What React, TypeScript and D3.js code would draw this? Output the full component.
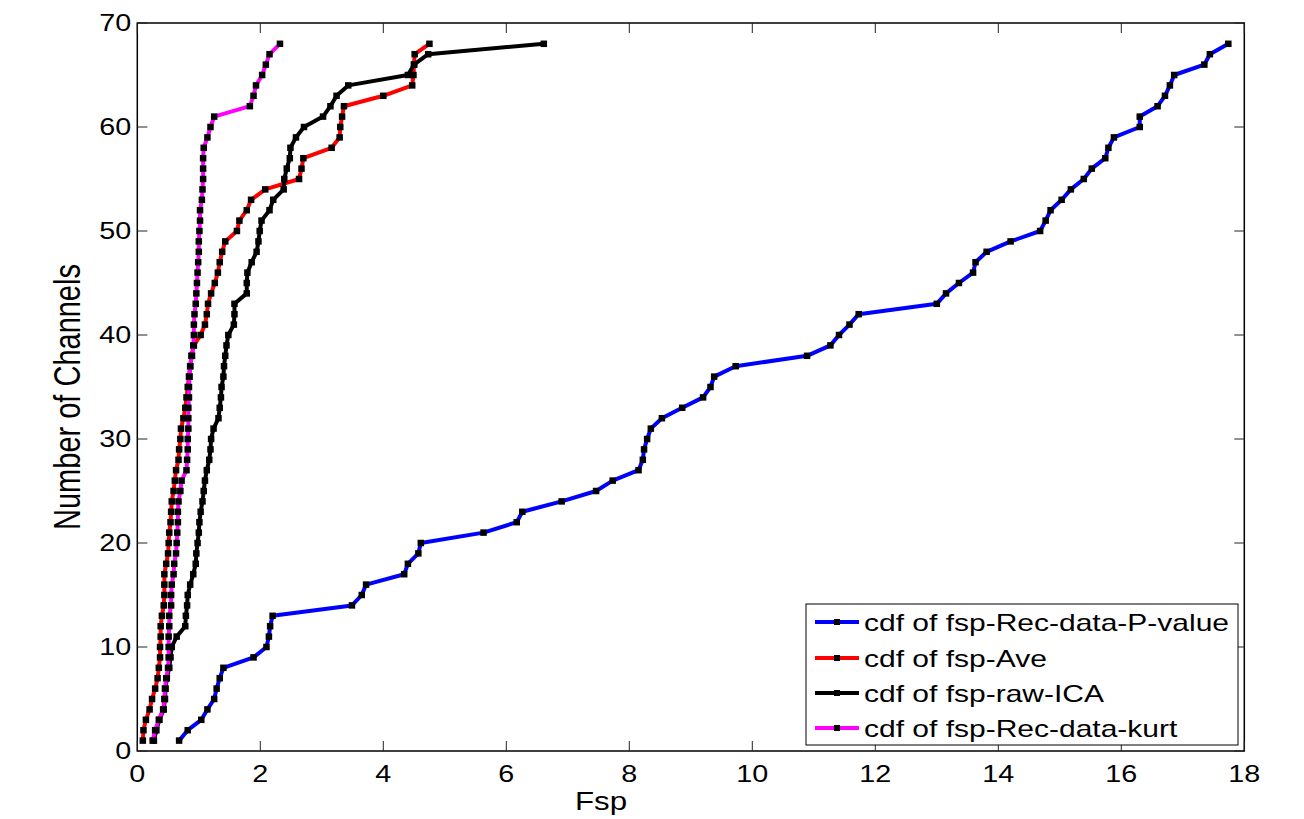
import React from 'react';
import * as d3 from 'd3';

// Channel counts (cumulative number of channels, 1..68)
const channels: number[] = d3.range(1, 69);

const fspRecDataPValue: number[] = [
  0.68, 0.82, 1.04, 1.14, 1.25, 1.29, 1.34, 1.40, 1.89, 2.10,
  2.14, 2.16, 2.20, 3.49, 3.65, 3.72, 4.34, 4.40, 4.57, 4.61,
  5.63, 6.17, 6.26, 6.90, 7.46, 7.73, 8.15, 8.22, 8.24, 8.29,
  8.35, 8.53, 8.86, 9.20, 9.32, 9.38, 9.73, 10.89, 11.27, 11.41,
  11.58, 11.73, 13.00, 13.15, 13.36, 13.59, 13.63, 13.81, 14.20, 14.68,
  14.77, 14.85, 15.03, 15.18, 15.39, 15.52, 15.74, 15.79, 15.88, 16.30,
  16.30, 16.59, 16.71, 16.79, 16.86, 17.35, 17.44, 17.74,
];

const fspAve: number[] = [
  0.09, 0.10, 0.14, 0.20, 0.24, 0.29, 0.33, 0.35, 0.37, 0.37,
  0.38, 0.38, 0.40, 0.43, 0.44, 0.44, 0.44, 0.47, 0.50, 0.51,
  0.52, 0.54, 0.55, 0.56, 0.59, 0.61, 0.63, 0.67, 0.68, 0.70,
  0.71, 0.75, 0.78, 0.80, 0.82, 0.84, 0.86, 0.88, 0.92, 1.03,
  1.10, 1.13, 1.15, 1.20, 1.26, 1.31, 1.34, 1.38, 1.43, 1.62,
  1.66, 1.78, 1.85, 2.08, 2.63, 2.67, 2.70, 3.16, 3.29, 3.30,
  3.33, 3.36, 4.00, 4.47, 4.49, 4.50, 4.51, 4.75,
];

const fspRawICA: number[] = [
  0.27, 0.31, 0.36, 0.43, 0.45, 0.46, 0.48, 0.52, 0.54, 0.56,
  0.64, 0.78, 0.79, 0.81, 0.82, 0.86, 0.91, 0.95, 0.96, 0.98,
  1.00, 1.01, 1.03, 1.06, 1.08, 1.10, 1.13, 1.17, 1.19, 1.20,
  1.24, 1.32, 1.34, 1.36, 1.37, 1.40, 1.41, 1.43, 1.45, 1.48,
  1.57, 1.58, 1.58, 1.78, 1.78, 1.79, 1.86, 1.94, 1.97, 1.99,
  2.02, 2.15, 2.21, 2.38, 2.39, 2.43, 2.48, 2.49, 2.58, 2.71,
  3.02, 3.14, 3.24, 3.43, 4.40, 4.50, 4.73, 6.61,
];

const fspRecDataKurt: number[] = [
  0.25, 0.29, 0.35, 0.42, 0.44, 0.45, 0.47, 0.50, 0.51, 0.51,
  0.51, 0.52, 0.52, 0.55, 0.55, 0.56, 0.59, 0.60, 0.63, 0.64,
  0.65, 0.66, 0.66, 0.67, 0.70, 0.72, 0.80, 0.81, 0.82, 0.82,
  0.83, 0.83, 0.83, 0.84, 0.84, 0.85, 0.86, 0.89, 0.91, 0.92,
  0.92, 0.93, 0.95, 0.96, 0.97, 0.98, 0.99, 1.00, 1.00, 1.01,
  1.02, 1.02, 1.05, 1.06, 1.07, 1.07, 1.07, 1.08, 1.14, 1.19,
  1.25, 1.83, 1.89, 1.93, 2.03, 2.09, 2.15, 2.32,
];

const seriesLabels: string[] = [
  'cdf of fsp-Rec-data-P-value',
  'cdf of fsp-Ave',
  'cdf of fsp-raw-ICA',
  'cdf of fsp-Rec-data-kurt',
];
const seriesValues: number[][] = [fspRecDataPValue, fspAve, fspRawICA, fspRecDataKurt];
const seriesColors: string[] = ['#0000ff', '#ff0000', '#000000', '#ff00ff'];

const xTicks: number[] = d3.range(0, 19, 2);
const yTicks: number[] = d3.range(0, 71, 10);

const xLabel = 'Fsp';
const yLabel = 'Number of Channels';

const W = 1304;
const H = 819;
const plot = { left: 137.3, right: 1244.3, top: 23, bottom: 751 };
const SX = 1.25; // horizontal stretch of text as in the reference
const FONT = "'Liberation Sans', Arial, Helvetica, sans-serif";

export default function App() {
  const x = d3.scaleLinear().domain([0, 18]).range([plot.left, plot.right]);
  const y = d3.scaleLinear().domain([0, 70]).range([plot.bottom, plot.top]);
  const line = d3
    .line<[number, number]>()
    .x((d) => x(d[0]))
    .y((d) => y(d[1]));

  const tickLen = 10;
  const ms = 6.5;

  const legend = { x0: 806, y0: 604, x1: 1238, y1: 745, rows: [622, 658, 693, 728] };

  return (
    <div style={{ position: 'fixed', left: 0, top: 0, width: W, height: H, background: '#fff' }}>
      <svg width={W} height={H} style={{ display: 'block' }} fontFamily={FONT}>
        <rect x={0} y={0} width={W} height={H} fill="#fff" />
        {/* frame */}
        <rect
          x={plot.left}
          y={plot.top}
          width={plot.right - plot.left}
          height={plot.bottom - plot.top}
          fill="#fff"
          stroke="#000"
          strokeWidth={1.5}
        />
        {/* x ticks */}
        {xTicks.map((t) => (
          <g key={'xt' + t}>
            <line x1={x(t)} x2={x(t)} y1={plot.bottom} y2={plot.bottom - tickLen} stroke="#222" strokeWidth={1} />
            <line x1={x(t)} x2={x(t)} y1={plot.top} y2={plot.top + tickLen} stroke="#222" strokeWidth={1} />
            <text
              transform={`translate(${x(t)},${plot.bottom + 31}) scale(${SX},1)`}
              textAnchor="middle"
              fontSize={23}
              fill="#000"
            >
              {t}
            </text>
          </g>
        ))}
        {/* y ticks */}
        {yTicks.map((t) => (
          <g key={'yt' + t}>
            <line x1={plot.left} x2={plot.left + tickLen} y1={y(t)} y2={y(t)} stroke="#222" strokeWidth={1} />
            <line x1={plot.right} x2={plot.right - tickLen} y1={y(t)} y2={y(t)} stroke="#222" strokeWidth={1} />
            <text
              transform={`translate(${plot.left - 6},${y(t) + 8}) scale(${SX},1)`}
              textAnchor="end"
              fontSize={23}
              fill="#000"
            >
              {t}
            </text>
          </g>
        ))}
        {/* axis labels */}
        <text transform={`translate(601,810) scale(${SX},1)`} textAnchor="middle" fontSize={25} fill="#000">
          {xLabel}
        </text>
        <text
          transform={`translate(80,${(plot.top + plot.bottom) / 2 + 10}) scale(${SX},1) rotate(-90)`}
          textAnchor="middle"
          fontSize={29}
          fill="#000"
        >
          {yLabel}
        </text>
        {/* series */}
        {seriesValues.map((vals, si) => {
          const pts: [number, number][] = vals.map((v, i) => [v, channels[i]]);
          return (
            <g key={'s' + si}>
              <path d={line(pts) || ''} fill="none" stroke={seriesColors[si]} strokeWidth={4} strokeLinejoin="round" />
              {pts.map((p, i) => (
                <rect key={i} x={x(p[0]) - ms / 2} y={y(p[1]) - ms / 2} width={ms} height={ms} fill="#000" />
              ))}
            </g>
          );
        })}
        {/* legend */}
        <rect
          x={legend.x0}
          y={legend.y0}
          width={legend.x1 - legend.x0}
          height={legend.y1 - legend.y0}
          fill="#fff"
          stroke="#000"
          strokeWidth={1}
        />
        {seriesLabels.map((lab, i) => (
          <g key={'lg' + i}>
            <line x1={815} x2={859} y1={legend.rows[i]} y2={legend.rows[i]} stroke={seriesColors[i]} strokeWidth={4} />
            <rect x={837 - 3} y={legend.rows[i] - 3} width={6} height={6} fill="#000" />
            <text
              transform={`translate(864,${legend.rows[i] + 8.5}) scale(${SX},1)`}
              fontSize={24}
              fill="#000"
            >
              {lab}
            </text>
          </g>
        ))}
      </svg>
    </div>
  );
}
